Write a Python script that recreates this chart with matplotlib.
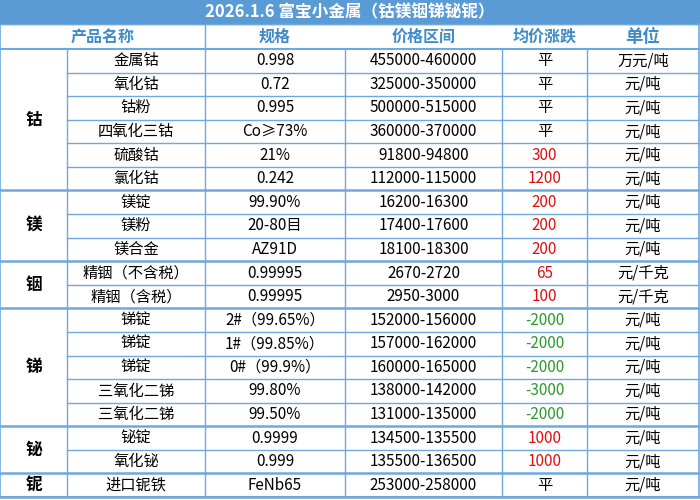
import matplotlib
matplotlib.use("Agg")
import matplotlib.pyplot as plt

plt.rcParams['font.family'] = ['Noto Sans CJK SC', 'DejaVu Sans']

title = "2026.1.6 富宝小金属（钴镁铟锑铋铌）"
headers = ["产品名称", "规格", "价格区间", "均价涨跌", "单位"]
groups = [("钴", 6), ("镁", 3), ("铟", 2), ("锑", 5), ("铋", 2), ("铌", 1)]
names = ["金属钴", "氧化钴", "钴粉", "四氧化三钴", "硫酸钴", "氯化钴",
         "镁锭", "镁粉", "镁合金",
         "精铟（不含税）", "精铟（含税）",
         "锑锭", "锑锭", "锑锭", "三氧化二锑", "三氧化二锑",
         "铋锭", "氧化铋", "进口铌铁"]
specs = ["0.998", "0.72", "0.995", "Co≥73%", "21%", "0.242",
         "99.90%", "20-80目", "AZ91D",
         "0.99995", "0.99995",
         "2#（99.65%）", "1#（99.85%）", "0#（99.9%）", "99.80%", "99.50%",
         "0.9999", "0.999", "FeNb65"]
prices = ["455000-460000", "325000-350000", "500000-515000", "360000-370000",
          "91800-94800", "112000-115000",
          "16200-16300", "17400-17600", "18100-18300",
          "2670-2720", "2950-3000",
          "152000-156000", "157000-162000", "160000-165000", "138000-142000",
          "131000-135000",
          "134500-135500", "135500-136500", "253000-258000"]
changes = ["平", "平", "平", "平", "300", "1200",
           "200", "200", "200",
           "65", "100",
           "-2000", "-2000", "-2000", "-3000", "-2000",
           "1000", "1000", "平"]
units = ["万元/吨", "元/吨", "元/吨", "元/吨", "元/吨", "元/吨",
         "元/吨", "元/吨", "元/吨",
         "元/千克", "元/千克",
         "元/吨", "元/吨", "元/吨", "元/吨", "元/吨",
         "元/吨", "元/吨", "元/吨"]

W, H = 700, 500
cols = [0, 67, 205, 345, 502, 587, 699]
title_h, head_h = 24, 25
y0 = title_h + head_h
rh = (497 - y0) / len(names)
blue = "#5B9BD5"
line_c = "#6FA8DC"

fig = plt.figure(figsize=(7, 5), dpi=100)
ax = fig.add_axes([0, 0, 1, 1])
ax.set_xlim(0, W)
ax.set_ylim(H, 0)
ax.axis('off')

ax.add_patch(plt.Rectangle((0, 0), W, title_h, color=blue))
ax.text(W / 2, title_h / 2, title, color="white", fontsize=12, fontweight='bold',
        ha='center', va='center')

hx = [(cols[0] + cols[2]) / 2] + [(cols[i] + cols[i + 1]) / 2 for i in range(2, 6)]
for j, (x, h) in enumerate(zip(hx, headers)):
    ax.text(x, title_h + head_h / 2, h, color="#3F8BC9",
            fontsize=12.5 if j == 4 else 11.5,
            fontweight='bold', ha='center', va='center')

for i in range(len(names)):
    yc = y0 + rh * (i + 0.5)
    ch = changes[i]
    cc = "black" if ch == "平" else ("#2E9A2E" if ch.startswith("-") else "#E01010")
    vals = [(names[i], "black"), (specs[i], "black"), (prices[i], "black"),
            (ch, cc), (units[i], "black")]
    for j, (v, c) in enumerate(vals):
        ax.text((cols[j + 1] + cols[j + 2]) / 2, yc, v, color=c, fontsize=11,
                ha='center', va='center')

# grid lines
ax.plot([0, W], [y0, y0], color=line_c, lw=1.5)
ax.plot([0, W], [H - 3, H - 3], color=line_c, lw=1.5)
start = 0
for g, n in groups:
    gy0 = y0 + rh * start
    gy1 = y0 + rh * (start + n)
    ax.text(cols[0] + (cols[1] - cols[0]) / 2, (gy0 + gy1) / 2, g, fontsize=12,
            fontweight='bold', ha='center', va='center')
    ax.plot([0, W], [gy1, gy1], color=line_c, lw=1.8)
    for k in range(1, n):
        yy = gy0 + rh * k
        ax.plot([cols[1], W], [yy, yy], color=line_c, lw=1)
    start += n
for x in cols:
    ax.plot([x, x], [y0 if x not in (0, cols[-1]) else title_h, H - 3],
            color=line_c, lw=1.2 if x in (0, cols[-1]) else 1)
ax.plot([cols[2], cols[2]], [title_h, y0], color=line_c, lw=1)
ax.plot([0, W], [title_h, title_h], color=line_c, lw=1)

fig.savefig("out.png", dpi=100)
